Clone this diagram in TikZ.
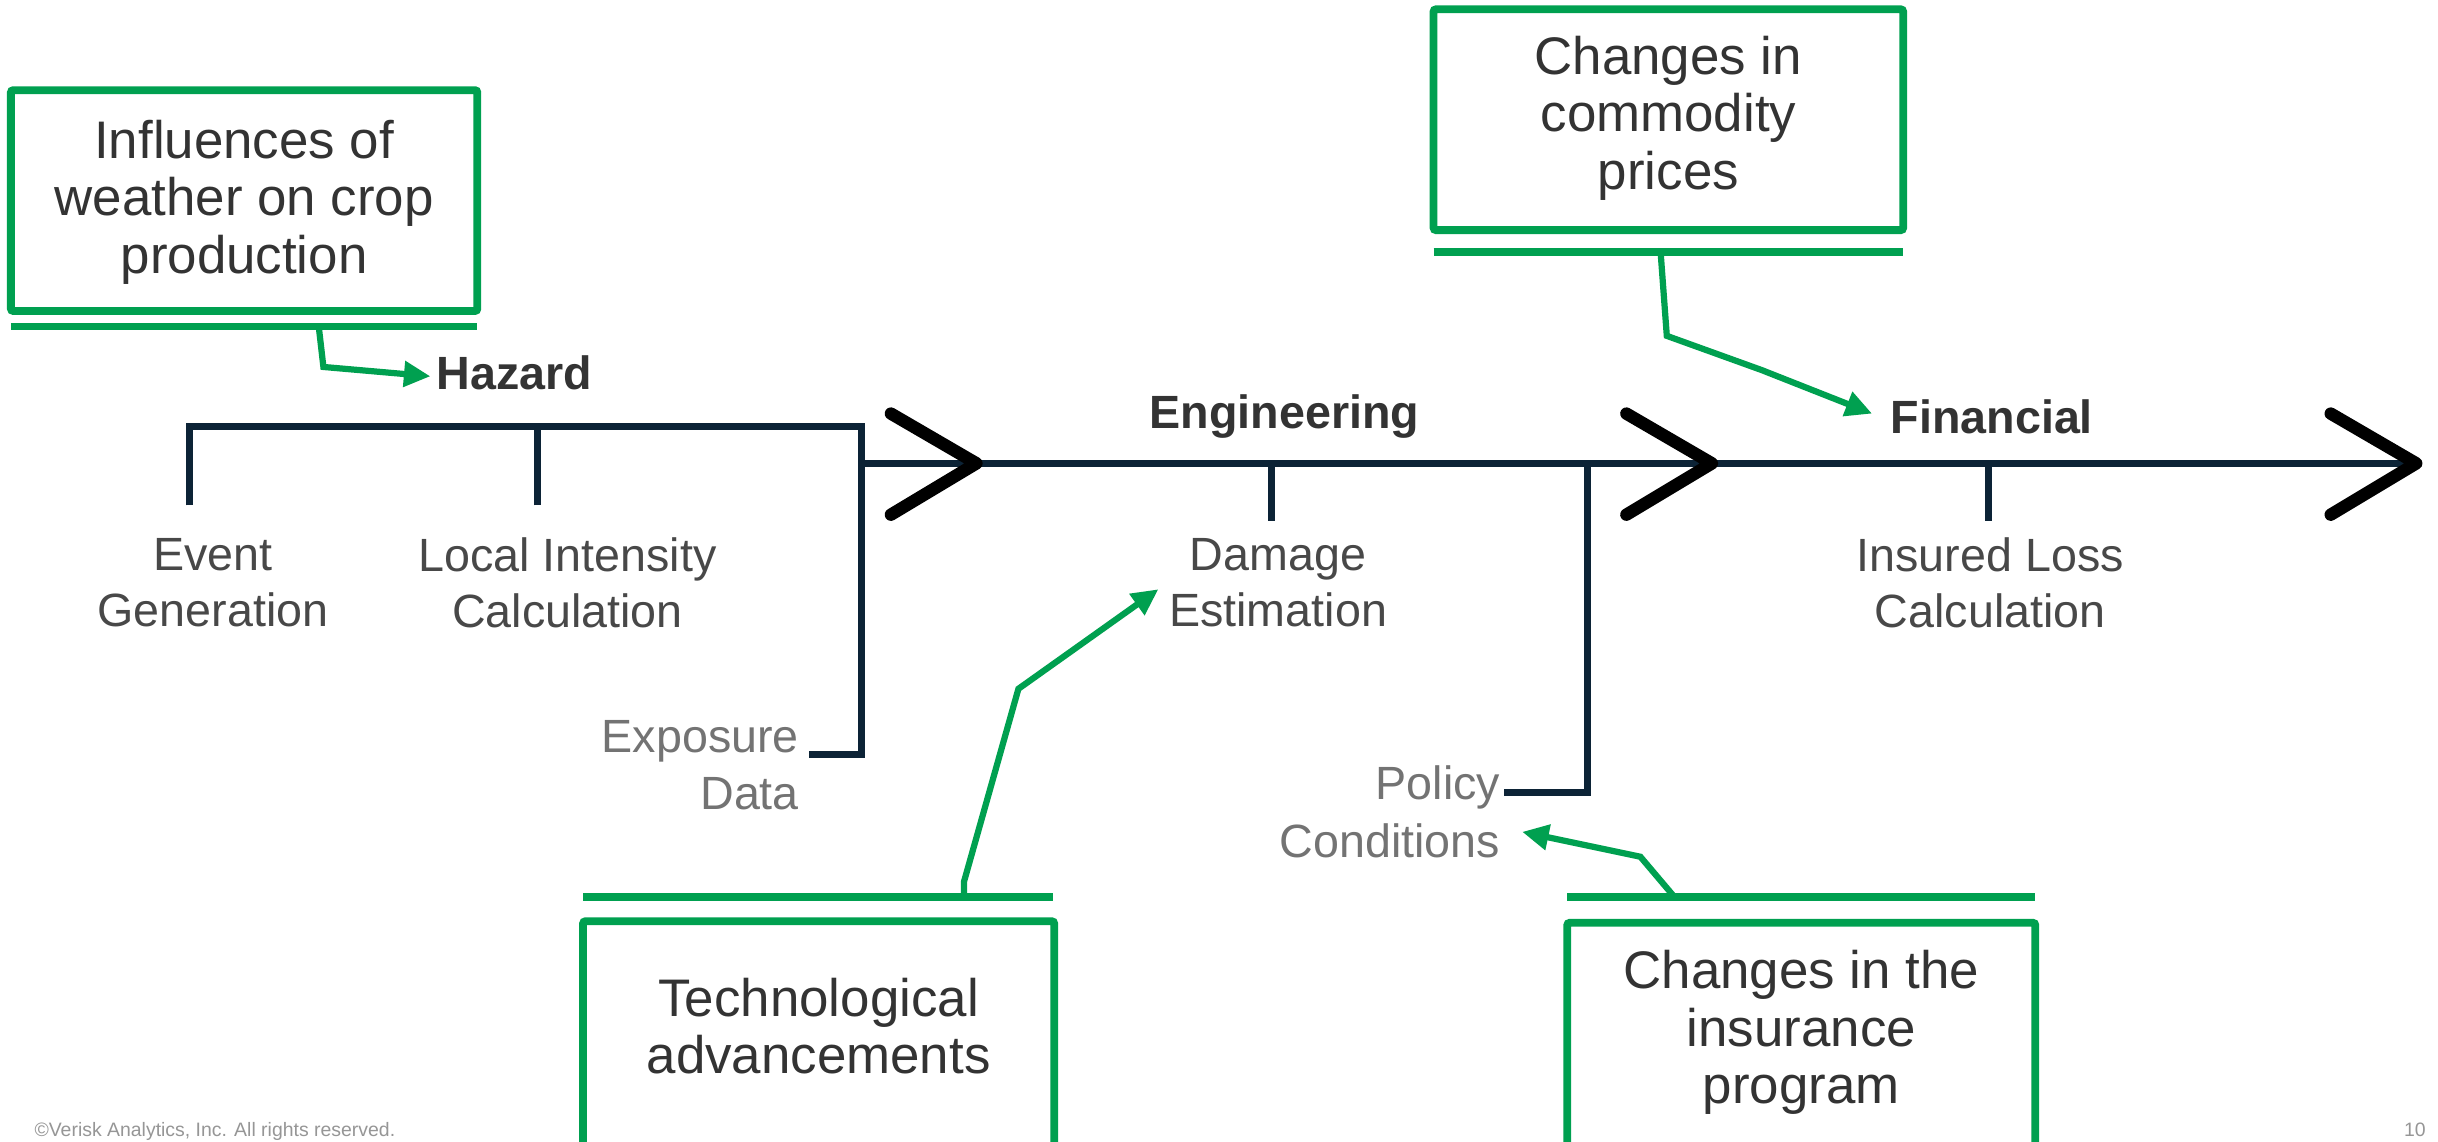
\documentclass[tikz,border=0pt]{standalone}
\usepackage{fontspec}
\setmainfont{Liberation Sans}
\usetikzlibrary{arrows.meta}
\definecolor{vgreen}{RGB}{0,160,80}
\definecolor{navy}{RGB}{12,35,54}
\definecolor{tdark}{RGB}{51,51,51}
\definecolor{tmid}{RGB}{72,72,72}
\definecolor{tlight}{RGB}{115,115,115}
\definecolor{tfoot}{RGB}{150,150,150}
\tikzset{
  gbox/.style={draw=vgreen, line width=5pt, rounded corners=1.5pt, inner sep=0pt},
  boxtext/.style={text=tdark, align=center, inner sep=0pt, font=\fontsize{34}{37}\selectfont},
  gbar/.style={draw=vgreen, line width=5pt},
  gconn/.style={draw=vgreen, line width=4pt, line join=miter, -{Triangle[length=17pt,width=16pt]}},
  spine/.style={draw=navy, line width=4.5pt},
  chev/.style={draw=black, line width=8pt, line cap=round, line join=round},
  lbl/.style={text=tmid, align=center, inner sep=0pt, font=\fontsize{30}{36}\selectfont},
  lbllight/.style={text=tlight, align=right, inner sep=0pt, font=\fontsize{30}{37}\selectfont},
  head/.style={text=tdark, inner sep=0pt, font=\fontsize{30}{36}\selectfont\bfseries},
  foottext/.style={text=tfoot, anchor=base west, inner sep=0pt, font=\fontsize{12.5}{14}\selectfont},
}
\begin{document}
\begin{tikzpicture}[x=1pt,y=-1pt]
\useasboundingbox[fill=white] (0,0) rectangle (1568,734.46);

% green boxes
\node[gbox, minimum width=300pt, minimum height=142pt] (b1) at (157,129) {};
\node[boxtext] (b1t) at (157,130) {Influences of\\weather on crop\\production};
\node[gbox, minimum width=302pt, minimum height=142pt] (b2) at (1073,77) {};
\node[boxtext] (b2t) at (1073,76) {Changes in\\commodity\\prices};
\node[gbox, minimum width=303pt, minimum height=180pt, anchor=north] (b3) at (526.5,590) {};
\node[boxtext] (b3t) at (526.5,660) {Technological\\advancements};
\node[gbox, minimum width=301pt, minimum height=180pt, anchor=north] (b4) at (1158.5,591) {};
\node[boxtext] (b4t) at (1158.5,664) {Changes in the\\insurance\\program};

% green bars
\coordinate (b1l) at (7,210);   \coordinate (b1r) at (307,210);
\coordinate (b2l) at (922,162); \coordinate (b2r) at (1224,162);
\coordinate (b3l) at (375,577); \coordinate (b3r) at (677,577);
\coordinate (b4l) at (1008,577);\coordinate (b4r) at (1309,577);
\draw[gbar] (b1l) -- (b1r);
\draw[gbar] (b2l) -- (b2r);
\draw[gbar] (b3l) -- (b3r);
\draw[gbar] (b4l) -- (b4r);

% headings
\node[head] (haz) at (331,240) {Hazard};
\node[head] (eng) at (826,268) {Engineering};
\node[head] (fin) at (1281,268) {Financial};

% labels
\node[lbl] (ev) at (137,375) {Event\\Generation};
\node[lbl] (li) at (365,375) {Local Intensity\\Calculation};
\node[lbllight, anchor=east] (ex) at (514,492) {Exposure\\Data};
\node[lbl] (de) at (822,375) {Damage\\Estimation};
\node[lbllight, anchor=east] (pc) at (965,522) {Policy\\Conditions};
\node[lbl] (il) at (1280,375) {Insured Loss\\Calculation};

% spine and brackets
\coordinate (h1) at (122,325); \coordinate (h2) at (346,325);
\coordinate (hc) at (554,274); \coordinate (exr) at (520,485);
\coordinate (s0) at (554,298); \coordinate (s1) at (1550,298);
\coordinate (t1) at (818,335); \coordinate (t2) at (1279,335);
\coordinate (pv) at (1021,298); \coordinate (pcr) at (967,510);
\draw[spine, line join=miter] (h1) -- (h1 |- hc) -- (hc) -- (hc |- exr) -- (exr);
\draw[spine] (h2) -- (h2 |- hc);
\draw[spine] (s0) -- (s1);
\draw[spine] (t1) -- (t1 |- s0);
\draw[spine] (t2) -- (t2 |- s0);
\draw[spine, line join=miter] (pv) -- (pv |- pcr) -- (pcr);

% chevrons
\draw[chev] (573,266) -- (628,298) -- (573,331);
\draw[chev] (1046,266) -- (1101,298) -- (1046,331);
\draw[chev] (1499,266) -- (1554,298) -- (1499,331);

% green connectors
\coordinate (c1a) at (205,210); \coordinate (c1b) at (208,236);
\draw[gconn] (c1a) -- (c1b) -- ([xshift=-4pt,yshift=-2pt]haz.west);
\coordinate (c2a) at (1068,162); \coordinate (c2b) at (1072,216); \coordinate (c2c) at (1133,238);
\draw[gconn] (c2a) -- (c2b) -- (c2c) -- (1204,266);
\coordinate (c3a) at (620,577); \coordinate (c3b) at (620,567); \coordinate (c3c) at (655,443);
\draw[gconn] (c3a) -- (c3b) -- (c3c) -- (745,379);
\coordinate (c4a) at (1077,577); \coordinate (c4b) at (1055,551);
\draw[gconn] (c4a) -- (c4b) -- (979,535);

% footer
\node[foottext] (foot) at (22,731) {©Verisk Analytics, Inc. All rights reserved.};
\node[foottext] (pg) at (1546,731) {10};
\end{tikzpicture}
\end{document}
